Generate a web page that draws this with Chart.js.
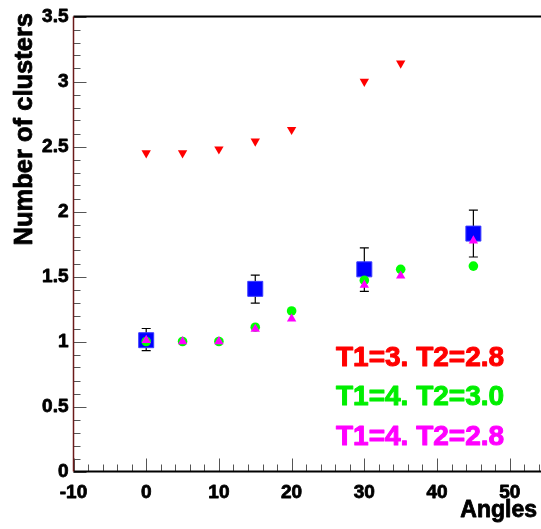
<!DOCTYPE html>
<html>
<head>
<meta charset="utf-8">
<script src="https://cdn.jsdelivr.net/npm/chart.js@4"></script>
<style>
  html, body { margin: 0; padding: 0; background: #fff; }
  #wrap { width: 541px; height: 529px; }
</style>
</head>
<body>
<div id="wrap"><canvas id="c" width="541" height="529"></canvas></div>
<script>
// angles where each series was measured
const anglesRed = [0, 5, 10, 15, 20, 30, 35];
const angles = [0, 5, 10, 15, 20, 30, 35, 45];
const anglesBlue = [0, 15, 30, 45];

// T1=3. T2=2.8
const redValues = [2.45, 2.45, 2.48, 2.54, 2.63, 3.0, 3.14];
// T1=4. T2=3.0
const greenValues = [1.0, 1.0, 1.0, 1.11, 1.235, 1.47, 1.555, 1.58];
// T1=4. T2=2.8
const magentaValues = [1.01, 1.0, 1.0, 1.095, 1.175, 1.435, 1.505, 1.775];
// reference points with error bars
const blueValues = [1.01, 1.405, 1.555, 1.83];
const blueLow = [0.93, 1.295, 1.385, 1.65];
const blueHigh = [1.10, 1.51, 1.72, 2.01];

const xTicks = [-10, 0, 10, 20, 30, 40, 50];
const yTicks = [0, 0.5, 1, 1.5, 2, 2.5, 3, 3.5];
const yTickLabels = ['0', '0.5', '1', '1.5', '2', '2.5', '3', '3.5'];

const legendLines = ['T1=3. T2=2.8', 'T1=4. T2=3.0', 'T1=4. T2=2.8'];
const legendColors = ['#ff0000', '#00ee00', '#ff00ff'];

function pts(xs, ys) {
  return ys.map((y, i) => ({ x: xs[i], y: y }));
}

const FONT = '"Liberation Sans", Arial, Helvetica, sans-serif';

// bold text with a thin outline so it looks as heavy as the original
function heavyText(ctx, t, x, y, w) {
  ctx.lineWidth = w;
  ctx.lineJoin = 'round';
  ctx.strokeStyle = ctx.fillStyle;
  ctx.strokeText(t, x, y);
  ctx.fillText(t, x, y);
}

// frame, inside ticks, labels, titles and error bars
const rootAxes = {
  id: 'rootAxes',
  beforeDatasetsDraw(chart) {
    const ctx = chart.ctx;
    const xs = chart.scales.x, ys = chart.scales.y;
    ctx.save();
    ctx.strokeStyle = '#000';
    ctx.lineWidth = 1.2;
    blueValues.forEach((v, i) => {
      const px = xs.getPixelForValue(anglesBlue[i]);
      const top = ys.getPixelForValue(blueHigh[i]);
      const bot = ys.getPixelForValue(blueLow[i]);
      ctx.beginPath();
      ctx.moveTo(px, top); ctx.lineTo(px, bot);
      ctx.moveTo(px - 4.5, top); ctx.lineTo(px + 4.5, top);
      ctx.moveTo(px - 4.5, bot); ctx.lineTo(px + 4.5, bot);
      ctx.stroke();
    });
    ctx.restore();
  },
  afterDraw(chart) {
    const ctx = chart.ctx;
    const a = chart.chartArea;
    const xs = chart.scales.x, ys = chart.scales.y;
    ctx.save();

    // ticks on x axis
    ctx.strokeStyle = '#555';
    ctx.lineWidth = 1;
    for (let v = -10; v <= xs.max; v += 2) {
      const px = Math.round(xs.getPixelForValue(v)) + 0.5;
      const len = (v % 10 === 0) ? 13 : 7;
      ctx.beginPath();
      ctx.moveTo(px, a.bottom); ctx.lineTo(px, a.bottom - len);
      ctx.stroke();
    }
    // ticks on y axis
    for (let k = 0; k <= 35; k++) {
      const py = Math.round(ys.getPixelForValue(k / 10)) + 0.5;
      const len = (k % 5 === 0) ? 13 : 7;
      ctx.beginPath();
      ctx.moveTo(a.left, py); ctx.lineTo(a.left + len, py);
      ctx.stroke();
    }

    // frame
    ctx.strokeStyle = '#000';
    ctx.lineWidth = 2;
    ctx.beginPath();
    ctx.moveTo(a.left, a.top); ctx.lineTo(a.right, a.top);
    ctx.moveTo(a.left, a.bottom); ctx.lineTo(a.right, a.bottom);
    ctx.stroke();
    ctx.strokeStyle = '#6b1a1a';
    ctx.lineWidth = 1.5;
    ctx.beginPath();
    ctx.moveTo(a.left, a.top); ctx.lineTo(a.left, a.bottom);
    ctx.stroke();

    // tick labels
    ctx.fillStyle = '#000';
    ctx.font = 'bold 19px ' + FONT;
    ctx.textAlign = 'center';
    ctx.textBaseline = 'middle';
    xTicks.forEach(v => {
      heavyText(ctx, String(v), xs.getPixelForValue(v), a.bottom + 21, 0.8);
    });
    ctx.textAlign = 'right';
    yTicks.forEach((v, i) => {
      heavyText(ctx, yTickLabels[i], a.left - 5, ys.getPixelForValue(v) + 0.5, 0.8);
    });

    // axis titles
    ctx.font = 'bold 23px ' + FONT;
    ctx.textBaseline = 'alphabetic';
    ctx.textAlign = 'right';
    heavyText(ctx, 'Angles', 537, 517, 0.8);

    ctx.save();
    ctx.translate(32, 13);
    ctx.rotate(-Math.PI / 2);
    ctx.font = 'bold 25.5px ' + FONT;
    ctx.textAlign = 'right';
    heavyText(ctx, 'Number of clusters', 0, 0, 0.8);
    ctx.restore();

    // text legend
    ctx.font = 'bold 28px ' + FONT;
    ctx.textAlign = 'left';
    legendLines.forEach((t, i) => {
      ctx.fillStyle = legendColors[i];
      heavyText(ctx, t, 336, 366 + i * 39.3, 1);
    });
    ctx.restore();
  }
};

new Chart(document.getElementById('c'), {
  type: 'scatter',
  data: {
    datasets: [
      {
        label: 'reference',
        data: pts(anglesBlue, blueValues),
        pointStyle: 'rect',
        pointRadius: 10.6,
        backgroundColor: '#0000ff',
        borderColor: '#3a3aff',
        borderWidth: 1,
        order: 4
      },
      {
        label: 'T1=4. T2=3.0',
        data: pts(angles, greenValues),
        pointStyle: 'circle',
        pointRadius: 4.8,
        backgroundColor: '#00ff00',
        borderColor: '#00ff00',
        borderWidth: 0,
        order: 3
      },
      {
        label: 'T1=4. T2=2.8',
        data: pts(angles, magentaValues),
        pointStyle: 'triangle',
        pointRadius: 5.4,
        backgroundColor: '#ff00ff',
        borderColor: '#ff00ff',
        borderWidth: 0,
        order: 2
      },
      {
        label: 'T1=3. T2=2.8',
        data: pts(anglesRed, redValues),
        pointStyle: 'triangle',
        pointRotation: 180,
        pointRadius: 5.4,
        backgroundColor: '#ff0000',
        borderColor: '#ff0000',
        borderWidth: 0,
        order: 1
      }
    ]
  },
  options: {
    responsive: false,
    animation: false,
    layout: { autoPadding: false, padding: { left: 73.5, top: 16.5, right: 0, bottom: 57.5 } },
    plugins: { legend: { display: false }, tooltip: { enabled: false } },
    scales: {
      x: { type: 'linear', min: -10, max: 54.3, display: false },
      y: { type: 'linear', min: 0, max: 3.5, display: false }
    }
  },
  plugins: [rootAxes]
});
</script>
</body>
</html>
